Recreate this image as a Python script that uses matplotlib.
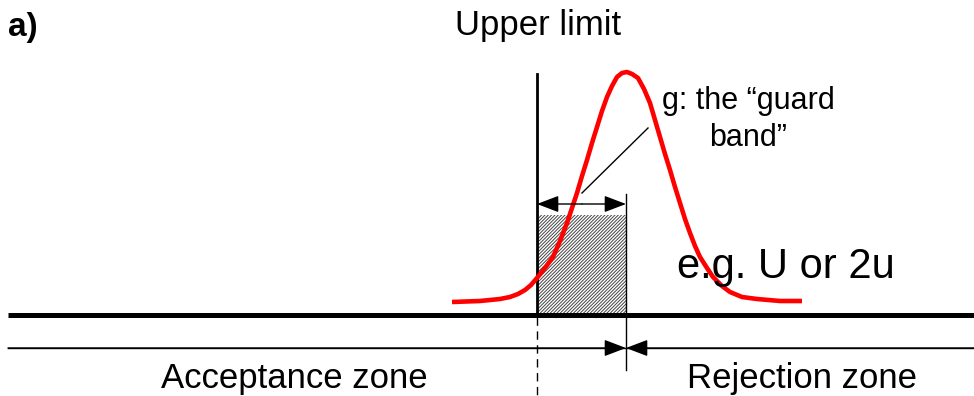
import matplotlib
matplotlib.use("Agg")
import matplotlib.pyplot as plt
from matplotlib.patches import Rectangle

plt.rcParams["font.family"] = ["Liberation Sans", "DejaVu Sans"]
plt.rcParams["hatch.linewidth"] = 0.7

curve_x = [452, 480, 500, 510, 518, 525, 531, 537, 545, 553, 560, 567, 572, 577, 582, 587,
           592, 597, 602, 607, 612, 617, 622, 627, 632, 638, 644, 650, 655, 660, 665, 670,
           675, 680, 685, 690, 695, 700, 707, 713, 722, 730, 742, 757, 780, 802]
curve_y = [302, 301, 299, 297, 294, 290, 285, 278, 268, 257, 241, 223, 208, 193, 176, 160,
           143, 127, 111, 97, 86, 77, 73, 72, 74, 78, 89, 103, 120, 137, 154, 170,
           187, 203, 219, 233, 246, 257, 268, 277, 286, 292, 297, 299, 301, 301]

# key positions of the sketch
upper_limit_x = 537
guard_edge_x = 626
axis_y = 315
zone_y = 348
band_top_y = 215
guard_arrow_y = 204

labels = {
    "panel": "a)",
    "limit": "Upper limit",
    "guard1": "g: the \u201cguard",
    "guard2": "band\u201d",
    "unc": "e.g. U or 2u",
    "accept": "Acceptance zone",
    "reject": "Rejection zone",
}

fig = plt.figure(figsize=(9.74, 3.96), dpi=100)
ax = fig.add_axes([0, 0, 1, 1])
ax.set_xlim(0, 974)
ax.set_ylim(396, 0)
ax.axis("off")

# guard band shaded area
ax.add_patch(Rectangle((upper_limit_x, band_top_y), guard_edge_x - upper_limit_x,
                       axis_y - band_top_y, facecolor="white", edgecolor="#444444",
                       linewidth=0, hatch="//////////", zorder=1))

# main measurement axis and zone line
ax.plot([8, 974], [axis_y, axis_y], color="black", lw=3.6, solid_capstyle="butt", zorder=3)
ax.plot([8, 974], [zone_y, zone_y], color="black", lw=1.0, zorder=3)

# upper limit line + dashed continuation
ax.plot([upper_limit_x, upper_limit_x], [74, axis_y], color="black", lw=2.0, zorder=3)
ax.plot([upper_limit_x, upper_limit_x], [axis_y + 2, 396], color="black", lw=1.0,
        ls=(0, (6, 4)), zorder=3)

# edge of guard band
ax.plot([guard_edge_x, guard_edge_x], [194, 370], color="black", lw=1.0, zorder=3)

# red distribution curve
ax.plot(curve_x, curve_y, color="#ff0000", lw=3.3, solid_joinstyle="round",
        solid_capstyle="butt", zorder=4)

arrow_kw = dict(arrowstyle="-|>,head_length=0.42,head_width=0.16", color="black",
                lw=1.0, shrinkA=0, shrinkB=0, mutation_scale=32)

# guard band double arrow
ax.annotate("", xy=(upper_limit_x, guard_arrow_y), xytext=(582, guard_arrow_y),
            arrowprops=arrow_kw, zorder=5)
ax.annotate("", xy=(guard_edge_x, guard_arrow_y), xytext=(582, guard_arrow_y),
            arrowprops=arrow_kw, zorder=5)

# zone boundary arrows
ax.annotate("", xy=(guard_edge_x, zone_y), xytext=(8, zone_y), arrowprops=arrow_kw, zorder=5)
ax.annotate("", xy=(guard_edge_x, zone_y), xytext=(974, zone_y), arrowprops=arrow_kw, zorder=5)

# leader line to the guard band label
ax.plot([582, 648], [193, 128], color="black", lw=1.0, zorder=5)

# texts
ax.text(8, 36, labels["panel"], fontsize=24, fontweight="bold", ha="left", va="baseline")
ax.text(538, 35, labels["limit"], fontsize=25, ha="center", va="baseline")
ax.text(748, 109, labels["guard1"], fontsize=22, ha="center", va="baseline")
ax.text(748, 146, labels["guard2"], fontsize=22, ha="center", va="baseline")
ax.text(677, 278, labels["unc"], fontsize=30, ha="left", va="baseline", zorder=6)
ax.text(294, 388, labels["accept"], fontsize=25, ha="center", va="baseline")
ax.text(802, 388, labels["reject"], fontsize=25, ha="center", va="baseline")

fig.savefig("out.png", dpi=100)
